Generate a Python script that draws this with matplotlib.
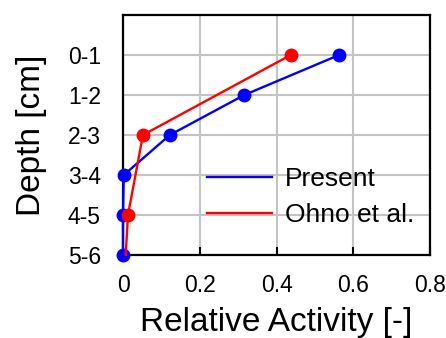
import numpy as np
import matplotlib
matplotlib.use("Agg")
import matplotlib.pyplot as plt
from matplotlib.lines import Line2D

plt.rcParams['font.family'] = ['Liberation Sans', 'DejaVu Sans']

depths = ['0-1', '1-2', '2-3', '3-4', '4-5', '5-6']
present = [0.563, 0.316, 0.122, 0.002, 0.0, 0.0]
ohno = [0.437, np.nan, 0.052, np.nan, 0.013, 0.007]
xticks = [0, 0.2, 0.4, 0.6, 0.8]
xticklabels = ['0', '0.2', '0.4', '0.6', '0.8']

fig = plt.figure(figsize=(4.46, 3.38), dpi=100)
ax = fig.add_axes([123/446, 1-255/338, (430-123)/446, 240/338])

ypos = np.arange(len(depths))
ax.plot(present, ypos, color='#0000ff', lw=1.7, marker='o', ms=9, zorder=3, clip_on=False)
o = np.array(ohno)
m = ~np.isnan(o)
yo = ypos[m]; xo = o[m]
ax.plot(xo, yo, color='#ff0000', lw=1.7, zorder=4, clip_on=False)
ax.plot(xo[:-1], yo[:-1], ls='none', color='#ff0000', marker='o', ms=9, zorder=4, clip_on=False)

ax.set_xlim(0, 0.8)
ax.set_ylim(5, -1)
ax.set_yticks(ypos)
ax.set_yticklabels(depths, fontsize=16.5)
ax.set_xticks(xticks)
ax.set_xticklabels(xticklabels, fontsize=16.5)
ax.tick_params(axis='x', direction='in', length=6, width=1.5, pad=14)
ax.tick_params(axis='y', length=0, pad=16)
ax.grid(True, color='#c4c4c4', lw=1.5, zorder=0)
ax.set_axisbelow(True)
for s in ax.spines.values():
    s.set_linewidth(1.6)
    s.set_color('black')

ax.set_xlabel('Relative Activity [-]', fontsize=24, labelpad=7)
ax.set_ylabel('Depth [cm]', fontsize=24, labelpad=15)

handles = [Line2D([], [], color='#0000ff', lw=1.7), Line2D([], [], color='#ff0000', lw=1.7)]
ax.legend(handles, ['Present', 'Ohno et al.'], loc='center left',
          bbox_to_anchor=(84/307, 0.24), frameon=False, fontsize=19,
          handlelength=2.45, handletextpad=0.5, labelspacing=0.45,
          borderpad=0, borderaxespad=0)

fig.savefig('out.png', dpi=100)
